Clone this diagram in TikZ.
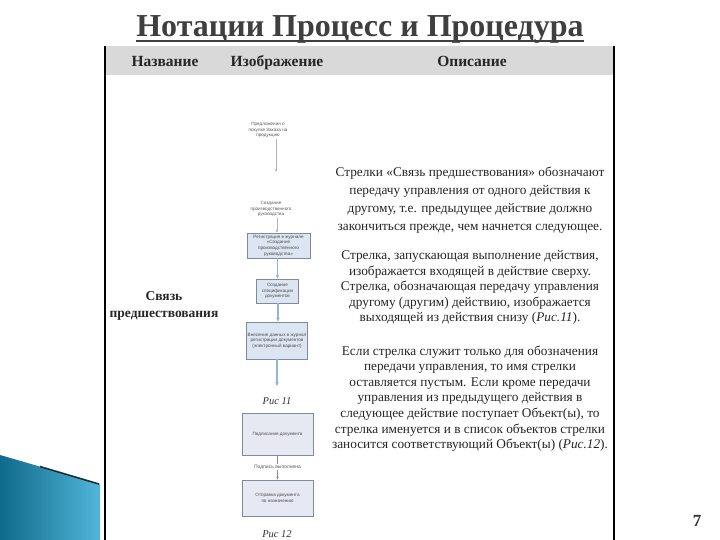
\documentclass[tikz,border=0pt]{standalone}
\usepackage{fontspec}
\setmainfont{Liberation Serif}
\newfontfamily\flowsans{Liberation Sans}
\usetikzlibrary{arrows.meta}
\definecolor{titlecol}{HTML}{3F3F3F}
\definecolor{hdrgray}{HTML}{D9D9D9}
\definecolor{boxblue}{HTML}{DCE6F2}
\definecolor{boxlav}{HTML}{E6E8F2}
\definecolor{boxedge}{HTML}{7F8A9C}
\definecolor{linkblue}{HTML}{95B3D7}
\definecolor{tealdark}{HTML}{0E6A8A}
\definecolor{teallight}{HTML}{52B6DA}
\begin{document}
\begin{tikzpicture}[x=1pt,y=-1pt,
  fbox/.style={draw=boxedge, line width=0.7pt, fill=boxblue, align=center,
    font=\flowsans\fontsize{4.6}{5.6}\selectfont, text=black!70, inner sep=1pt},
  lbox/.style={fbox, fill=boxlav},
  flowtxt/.style={align=center, font=\flowsans\fontsize{4.6}{5.6}\selectfont, text=black!65, inner sep=1pt},
  flowline/.style={draw=linkblue, line width=1.3pt, -{Stealth[length=4pt,width=3.5pt]}},
  thinline/.style={draw=black!30, line width=0.4pt, -{Stealth[length=3pt,width=2.5pt]}},
  hdr/.style={anchor=base, font=\bfseries\fontsize{15.5}{18}\selectfont, text=black!85},
  desc/.style={align=center, font=\fontsize{13.3}{15.6}\selectfont, text=black!85},
  figcap/.style={font=\itshape\fontsize{10.5}{12}\selectfont, text=black!80}]
\useasboundingbox (0,0) rectangle (720,540);
\fill[white] (0,0) rectangle (720,540);

% title
\node[inner sep=0, anchor=base, font=\bfseries\fontsize{32}{36}\selectfont, text=titlecol] (title) at (360,37) {Нотации Процесс и Процедура};
\draw[titlecol, line width=2.6pt] ([yshift=-4pt]title.base west) -- ([yshift=-4pt]title.base east);

% table frame
\fill[hdrgray] (105,46) rectangle (614,75);
\draw[line width=1.8pt] (105,46) -- (105,540);
\draw[line width=1.8pt] (614,46) -- (614,540);

% header
\node[hdr] (h1) at (165,67) {Название};
\node[hdr] (h2) at (277,67) {Изображение};
\node[hdr] (h3) at (472,67) {Описание};

% name
\node[align=center, font=\bfseries\fontsize{13.5}{17.5}\selectfont, text=black!85] (name) at (164,306) {Связь\\предшествования};

% flowchart
\node[flowtxt] (t1) at (268,130) {Предложения о\\покупке Заказа на\\продукцию};
\coordinate (t1end) at (276,172);
\node[flowtxt] (t2) at (271,209) {Создание\\производственного\\руководства};
\node[fbox, minimum width=63, minimum height=25] (b1) at (278.5,245.5) {Регистрация в журнале\\«Создание\\производственного\\руководства»};
\node[fbox, minimum width=42, minimum height=24] (b2) at (277.5,291) {Создание\\спецификации\\документов};
\node[fbox, minimum width=60, minimum height=37] (b3) at (277,340.5) {Внесение данных в журнал\\регистрации документов\\(электронный вариант)};
\coordinate (a1end) at (277,386);
\node[figcap] (c1) at (277,401) {Рис 11};

\draw[thinline] ([xshift=8pt]t1.south) -- (t1end);
\draw[thinline] ([xshift=6pt]t2.south) -- ([xshift=-1.5pt]b1.north);
\draw[flowline] ([xshift=-1pt]b1.south) -- (b2.north);
\draw[flowline] ([xshift=0.5pt]b2.south) -- ([xshift=1pt]b3.north);
\draw[flowline] (b3.south) -- (a1end);

\node[lbox, minimum width=71, minimum height=42] (b4) at (277.5,434.5) {Подписание документа};
\node[lbox, minimum width=71, minimum height=36] (b5) at (277.5,498) {Отправка документа\\по назначению};
\draw[draw=black!45, line width=0.5pt, -{Stealth[length=3pt,width=2.5pt]}] (b4.south) -- (b5.north);
\node[flowtxt, fill=white, inner sep=0.5pt, font=\flowsans\fontsize{5}{6}\selectfont] (lab) at (277.5,467) {Подпись выполнена};
\node[figcap] (c2) at (277,534) {Рис 12};

% description
\node[desc, font=\fontsize{13.3}{18}\selectfont] (d1) at (470,200) {Стрелки «Связь предшествования» обозначают\\передачу управления от одного действия к\\другому, т.е. предыдущее действие должно\\закончиться прежде, чем начнется следующее.};
\node[desc] (d2) at (470,287.5) {Стрелка, запускающая выполнение действия,\\изображается входящей в действие сверху.\\Стрелка, обозначающая передачу управления\\другому (другим) действию, изображается\\выходящей из действия снизу (\textit{Рис.11}).};
\node[desc] (d3) at (470,398.5) {Если стрелка служит только для обозначения\\передачи управления, то имя стрелки\\оставляется пустым. Если кроме передачи\\управления из предыдущего действия в\\следующее действие поступает Объект(ы), то\\стрелка именуется и в список объектов стрелки\\заносится соответствующий Объект(ы) (\textit{Рис.12}).};

% decoration
\shade[left color=tealdark, right color=teallight] (0,455) -- (100,484) -- (100,540) -- (0,540) -- cycle;
\draw[black, line width=1.6pt, opacity=0.75] (40,466.5) -- (99,484);

% page number
\node[font=\bfseries\fontsize{17}{20}\selectfont, text=black!80] (pg) at (697,521) {7};
\end{tikzpicture}
\end{document}
